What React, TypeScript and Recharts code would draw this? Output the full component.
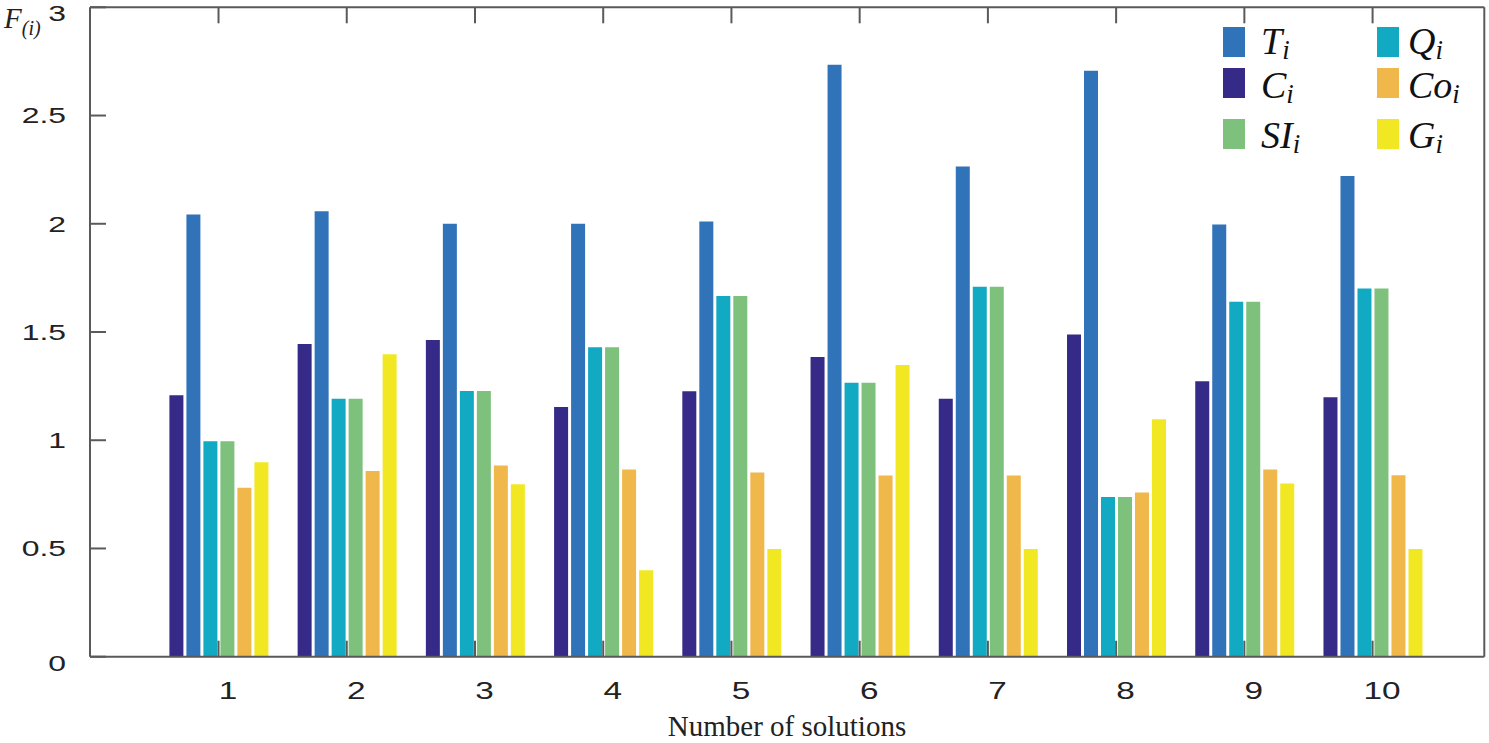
import React from 'react';
import { BarChart, Bar, XAxis, YAxis, Legend } from 'recharts';

const categories = ['1', '2', '3', '4', '5', '6', '7', '8', '9', '10'];
const seriesC = [1.208, 1.444, 1.463, 1.154, 1.226, 1.384, 1.192, 1.489, 1.272, 1.198];
const seriesT = [2.043, 2.058, 2.0, 2.0, 2.011, 2.735, 2.264, 2.707, 1.997, 2.221];
const seriesQ = [0.995, 1.192, 1.228, 1.429, 1.666, 1.265, 1.709, 0.738, 1.64, 1.701];
const seriesSI = [0.995, 1.192, 1.228, 1.429, 1.666, 1.265, 1.709, 0.738, 1.64, 1.701];
const seriesCo = [0.78, 0.858, 0.883, 0.865, 0.851, 0.837, 0.837, 0.759, 0.865, 0.838];
const seriesG = [0.898, 1.397, 0.797, 0.399, 0.497, 1.348, 0.497, 1.097, 0.8, 0.497];
const yTicks = [0, 0.5, 1, 1.5, 2, 2.5, 3];

const COLORS = {
  T: '#3173b9',
  C: '#352a87',
  SI: '#7dc17c',
  Q: '#12a9c2',
  Co: '#f0b84a',
  G: '#f1e823',
};

const data = categories.map((name, i) => ({
  name,
  C: seriesC[i],
  T: seriesT[i],
  Q: seriesQ[i],
  SI: seriesSI[i],
  Co: seriesCo[i],
  G: seriesG[i],
}));

const AXIS = '#5a5a5a';
const TICK_FONT = 'Liberation Sans, Arial, sans-serif';
const SERIF = 'Liberation Serif, Times New Roman, serif';
const TL = 16;

const LeftTick = (p: any) => {
  const v = p.payload.value;
  const shift = v === 3 || v === 0 ? 6 : 0;
  return (
    <g>
      <line x1={p.x} x2={p.x + TL} y1={p.y} y2={p.y} stroke={AXIS} strokeWidth={2} />
      <text
        transform={`translate(${p.x - 24},${p.y + shift}) scale(1.45,1)`}
        x={0}
        y={0}
        dy="0.36em"
        textAnchor="end"
        fontFamily={TICK_FONT}
        fontSize={22}
        fill="#222"
      >
        {v}
      </text>
    </g>
  );
};

const RightTick = (p: any) => (
  <line x1={p.x} x2={p.x - TL} y1={p.y} y2={p.y} stroke={AXIS} strokeWidth={2} />
);

const BottomTick = (p: any) => (
  <g>
    <line x1={p.x} x2={p.x} y1={p.y} y2={p.y - TL} stroke={AXIS} strokeWidth={2} />
    <text
      transform={`translate(${p.x + 9.5},${p.y + 42}) scale(1.45,1)`}
      x={0}
      y={0}
      textAnchor="middle"
      fontFamily={TICK_FONT}
      fontSize={23}
      fill="#222"
    >
      {p.payload.value}
    </text>
  </g>
);

const TopTick = (p: any) => (
  <line x1={p.x} x2={p.x} y1={p.y} y2={p.y + TL} stroke={AXIS} strokeWidth={2} />
);

const legendItems = [
  { key: 'T', main: 'T', col: 0, row: 0 },
  { key: 'C', main: 'C', col: 0, row: 1 },
  { key: 'SI', main: 'SI', col: 0, row: 2 },
  { key: 'Q', main: 'Q', col: 1, row: 0 },
  { key: 'Co', main: 'Co', col: 1, row: 1 },
  { key: 'G', main: 'G', col: 1, row: 2 },
];
const LEG_LEFT = 1200;
const rowTops = [27, 68, 119];
const rowBase = [54, 98, 148];
const colRect = [1223, 1377];
const colText = [1261, 1408];

const LegendContent = () => (
  <svg width={289} height={175} style={{ display: 'block' }}>
    {legendItems.map((it) => (
      <g key={it.key}>
        <rect
          x={colRect[it.col] - LEG_LEFT}
          y={rowTops[it.row]}
          width={22}
          height={30}
          fill={(COLORS as any)[it.key]}
        />
        <text
          x={colText[it.col] - LEG_LEFT}
          y={rowBase[it.row]}
          fontFamily={SERIF}
          fontStyle="italic"
          fontSize={38}
          fill="#111"
        >
          {it.main}
          <tspan fontSize={27} dy={5}>i</tspan>
        </text>
      </g>
    ))}
  </svg>
);

export default function App() {
  return (
    <div style={{ position: 'absolute', left: 0, top: 0, width: 1489, height: 743, background: '#fff' }}>
      <BarChart
        width={1489}
        height={743}
        data={data}
        margin={{ top: 6.3, right: 3.7, bottom: 0, left: 0 }}
        barSize={14}
        barGap={3}
      >
        <XAxis
          xAxisId="b"
          dataKey="name"
          orientation="bottom"
          height={86.3}
          padding={{ left: 64.4, right: 47.6 }}
          interval={0}
          tickLine={false}
          tickSize={0}
          tickMargin={0}
          axisLine={{ stroke: AXIS, strokeWidth: 2 }}
          tick={BottomTick}
          label={{
            content: () => (
              <text x={787} y={736} textAnchor="middle" fontFamily={SERIF} fontSize={29} fill="#222">
                Number of solutions
              </text>
            ),
          }}
        />
        <XAxis
          xAxisId="t"
          dataKey="name"
          orientation="top"
          height={1}
          padding={{ left: 64.4, right: 47.6 }}
          interval={0}
          tickLine={false}
          tickSize={0}
          tickMargin={0}
          axisLine={{ stroke: AXIS, strokeWidth: 2 }}
          tick={TopTick}
        />
        <YAxis
          yAxisId="l"
          orientation="left"
          width={90}
          type="number"
          domain={[0, 3]}
          ticks={yTicks}
          interval={0}
          tickLine={false}
          tickSize={0}
          tickMargin={0}
          axisLine={{ stroke: AXIS, strokeWidth: 2 }}
          tick={LeftTick}
          label={{
            content: () => (
              <text x={4} y={28} fontFamily={SERIF} fontStyle="italic" fontSize={29} fill="#222">
                F
                <tspan fontSize={20} dy={7}>(i)</tspan>
              </text>
            ),
          }}
        />
        <YAxis
          yAxisId="r"
          orientation="right"
          width={1}
          type="number"
          domain={[0, 3]}
          ticks={yTicks}
          interval={0}
          tickLine={false}
          tickSize={0}
          tickMargin={0}
          axisLine={{ stroke: AXIS, strokeWidth: 2 }}
          tick={RightTick}
        />
        <Legend
          layout="vertical"
          align="center"
          verticalAlign="middle"
          wrapperStyle={{ left: LEG_LEFT, top: 0, width: 289, height: 175 }}
          content={LegendContent}
        />
        <Bar xAxisId="b" yAxisId="l" dataKey="C" fill={COLORS.C} isAnimationActive={false} />
        <Bar xAxisId="b" yAxisId="l" dataKey="T" fill={COLORS.T} isAnimationActive={false} />
        <Bar xAxisId="b" yAxisId="l" dataKey="Q" fill={COLORS.Q} isAnimationActive={false} />
        <Bar xAxisId="b" yAxisId="l" dataKey="SI" fill={COLORS.SI} isAnimationActive={false} />
        <Bar xAxisId="b" yAxisId="l" dataKey="Co" fill={COLORS.Co} isAnimationActive={false} />
        <Bar xAxisId="b" yAxisId="l" dataKey="G" fill={COLORS.G} isAnimationActive={false} />
      </BarChart>
    </div>
  );
}
